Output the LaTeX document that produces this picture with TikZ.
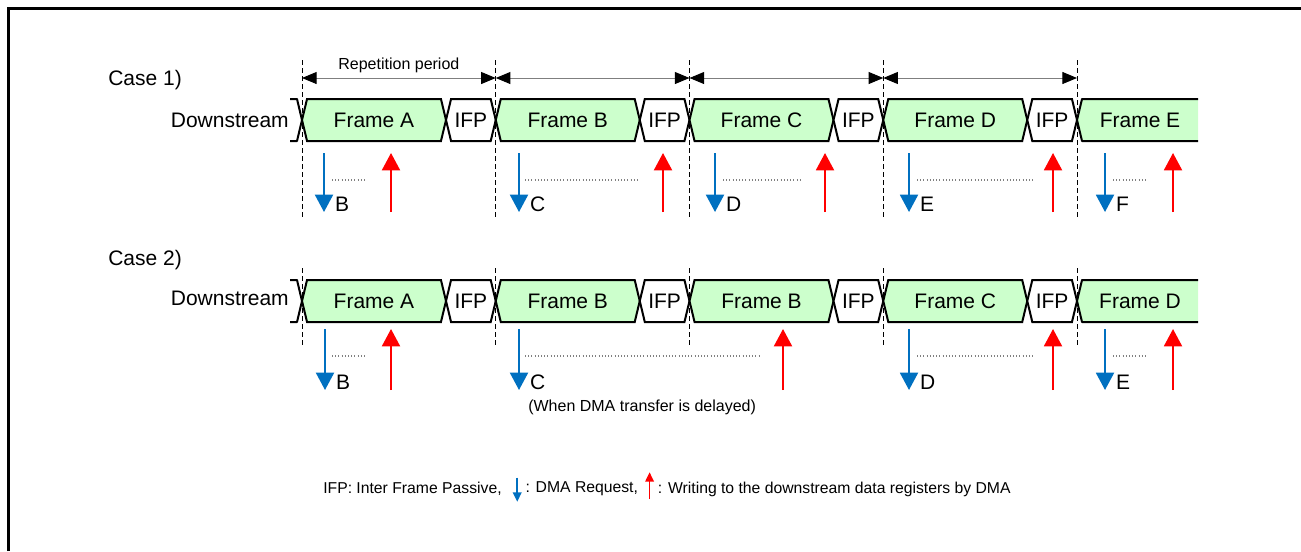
\documentclass[tikz,border=0pt]{standalone}
\usepackage{fontspec}
\setmainfont{Liberation Sans}
\usepackage{tikz}
\usetikzlibrary{shapes.symbols, arrows.meta, positioning}
\definecolor{FrameGreen}{HTML}{CCFFCC}
\definecolor{ReqBlue}{HTML}{0070C0}
\definecolor{WriteRed}{HTML}{FF0000}
\definecolor{SpanGray}{HTML}{7F7F7F}

\begin{document}
\begin{tikzpicture}[x=0.75pt, y=-0.75pt,
  frame/.style={signal, signal to=west and east, signal pointer angle=153,
    draw=black, line width=1.5pt, fill=FrameGreen, minimum width=108pt,
    minimum height=31.5pt, inner sep=0pt, font=\fontsize{15.75}{18}\selectfont},
  ifp/.style={frame, fill=white, minimum width=37.3pt},
  sig/.style={draw=black, line width=1.5pt, line join=round},
  lbl/.style={inner sep=0pt, font=\fontsize{15.75}{18}\selectfont},
  note/.style={inner sep=0pt, font=\fontsize{12}{14}\selectfont},
  lgd/.style={inner sep=0pt, font=\fontsize{11.8}{14}\selectfont},
  guide/.style={line width=0.75pt, dash pattern=on 3.75pt off 2.25pt},
  span/.style={{Triangle[length=11pt,width=9pt,color=black]}-{Triangle[length=11pt,width=9pt,color=black]},
    draw=SpanGray, line width=0.75pt},
  req/.style={-{Triangle[length=13pt,width=13.5pt]}, draw=ReqBlue, line width=1.5pt},
  wr/.style={-{Triangle[length=13pt,width=13.5pt]}, draw=WriteRed, line width=1.5pt},
  reqs/.style={-{Triangle[length=7pt,width=6.5pt]}, draw=ReqBlue, line width=1.2pt},
  wrs/.style={-{Triangle[length=7pt,width=6.5pt]}, draw=WriteRed, line width=1.2pt},
  gapline/.style={draw=gray, line width=0.8pt, dash pattern=on 0.8pt off 1.6pt},
  reqlbl/.style={lbl, anchor=west, xshift=7.5pt, yshift=6pt}
]
\useasboundingbox (0,0) rectangle (1301,551);
\draw[line width=2.25pt] (8.5,551) -- (8.5,8.5) -- (1301,8.5);

%% period marks
\coordinate (p0) at (302,78);
\coordinate (p1) at (495.75,78);
\coordinate (p2) at (689.5,78);
\coordinate (p3) at (883.25,78);
\coordinate (p4) at (1077,78);
\foreach \p in {p0,p1,p2,p3,p4} {
  \draw[guide] (\p |- 0,60) -- (\p |- 0,218);
  \draw[guide] (\p |- 0,268) -- (\p |- 0,347);
}
\draw[span] (p0) -- node[note, above=3.5pt] (rep) {Repetition period} (p1);
\draw[span] (p1) -- (p2);
\draw[span] (p2) -- (p3);
\draw[span] (p3) -- (p4);

%% Case 1)
\node[lbl, anchor=west] (case1) at (108,80) {Case 1)};
\node[lbl, anchor=east] (down1) at (289,120) {Downstream};
\draw[sig] (290,99) -- (297,99) -- (302,120) -- (297,141) -- (290,141);
\node[frame] (frameA1) at (374,120) {Frame A};
\node[ifp]   (ifpA1)   at (470.875,120) {IFP};
\node[frame] (frameB1) at (567.75,120) {Frame B};
\node[ifp]   (ifpB1)   at (664.625,120) {IFP};
\node[frame] (frameC1) at (761.5,120) {Frame C};
\node[ifp]   (ifpC1)   at (858.375,120) {IFP};
\node[frame] (frameD1) at (955.25,120) {Frame D};
\node[ifp]   (ifpD1)   at (1052.125,120) {IFP};
\fill[FrameGreen] (1198,99) -- (1082,99) -- (1077,120) -- (1082,141) -- (1198,141) -- cycle;
\draw[sig] (1198,99) -- (1082,99) -- (1077,120) -- (1082,141) -- (1198,141);
\node[lbl] (frameE1) at (1140,120) {Frame E};

\foreach \xq/\lab/\xs/\xe/\xw in {324/B/332/367/391, 519/C/525/640/663,
    715/D/723/802/825, 909/E/917/1033/1053, 1105/F/1113/1147/1173} {
  \draw[req] (\xq,153) -- (\xq,212) node[reqlbl] (req\lab1) {\lab};
  \draw[gapline] (\xs,180) -- (\xe,180);
  \draw[wr] (\xw,212) -- (\xw,153);
}

%% Case 2)
\node[lbl, anchor=west] (case2) at (108,260) {Case 2)};
\node[lbl, anchor=east] (down2) at (289,298) {Downstream};
\draw[sig] (290,280) -- (297,280) -- (302,301) -- (297,322) -- (290,322);
\node[frame] (frameA2)  at (374,301) {Frame A};
\node[ifp]   (ifpA2)    at (470.875,301) {IFP};
\node[frame] (frameB2)  at (567.75,301) {Frame B};
\node[ifp]   (ifpB2)    at (664.625,301) {IFP};
\node[frame] (frameBB2) at (761.5,301) {Frame B};
\node[ifp]   (ifpBB2)   at (858.375,301) {IFP};
\node[frame] (frameC2)  at (955.25,301) {Frame C};
\node[ifp]   (ifpC2)    at (1052.125,301) {IFP};
\fill[FrameGreen] (1198,280) -- (1082,280) -- (1077,301) -- (1082,322) -- (1198,322) -- cycle;
\draw[sig] (1198,280) -- (1082,280) -- (1077,301) -- (1082,322) -- (1198,322);
\node[lbl] (frameD2) at (1140,301) {Frame D};

\foreach \xq/\lab/\xs/\xe/\xw in {325/B/332/367/391, 519/C/525/760/783,
    909/D/917/1033/1053, 1105/E/1113/1147/1173} {
  \draw[req] (\xq,329) -- (\xq,390) node[reqlbl] (req\lab2) {\lab};
  \draw[gapline] (\xs,356) -- (\xe,356);
  \draw[wr] (\xw,390) -- (\xw,329);
}
\node[note, anchor=west] (delay) at (528,407) {(When DMA transfer is delayed)};

%% legend
\node[lgd, anchor=west] (lg1) at (323,489) {IFP: Inter Frame Passive,};
\coordinate[right=11.5pt of lg1.east] (qa);
\node[lgd, right=6pt of qa] (lg2) {: DMA Request,};
\coordinate[right=8.5pt of lg2.east] (wa);
\node[lgd, right=6pt of wa] (lg3) {: Writing to the downstream data registers by DMA};
\draw[reqs] ([yshift=8.5pt]qa) -- ([yshift=-9.5pt]qa);
\draw[wrs] ([yshift=-7.5pt]wa) -- ([yshift=12.5pt]wa);

\end{tikzpicture}
\end{document}
